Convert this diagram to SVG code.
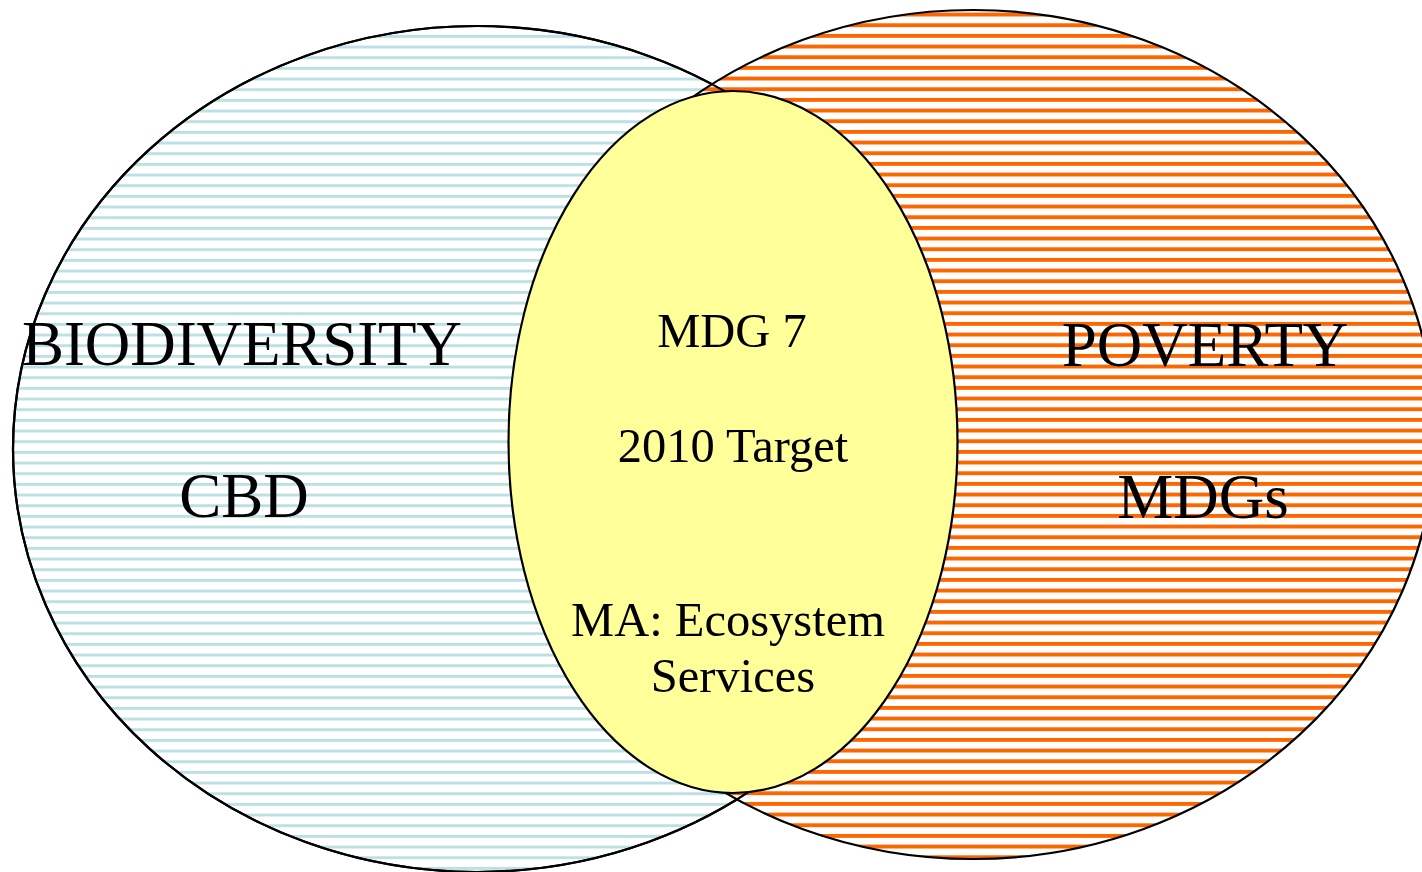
<svg xmlns="http://www.w3.org/2000/svg" width="1422" height="872" viewBox="0 0 1422 872">
<style>
.outline{stroke:#000;stroke-width:2.2}
.stripe{shape-rendering:crispEdges}
.big{font-family:"Liberation Serif","Times New Roman",serif;font-size:63px;fill:#000;text-anchor:middle}
.mid{font-family:"Liberation Serif","Times New Roman",serif;font-size:48.5px;fill:#000;text-anchor:middle}
</style>
<defs>
<pattern id="blueStripes" patternUnits="userSpaceOnUse" x="0" y="0" width="20" height="10.667">
<rect class="stripe" x="0" y="0" width="20" height="10.667" fill="#fff"/>
<rect class="stripe" x="0" y="2.6" width="20" height="2.8" fill="#BCE0E4"/>
</pattern>
<pattern id="orangeStripes" patternUnits="userSpaceOnUse" x="0" y="0" width="20" height="10.667">
<rect class="stripe" x="0" y="0" width="20" height="10.667" fill="#fff"/>
<rect class="stripe" x="0" y="2.3" width="20" height="3.4" fill="#FF6600"/>
</pattern>
</defs>
<rect width="1422" height="872" fill="#fff"/>
<g id="biodiversity">
<ellipse class="outline" cx="477" cy="449" rx="464" ry="423" fill="url(#blueStripes)"/>
</g>
<g id="poverty">
<ellipse class="outline" cx="973" cy="434.5" rx="462" ry="424.5" fill="url(#orangeStripes)"/>
<ellipse cx="477" cy="449" rx="464" ry="423" fill="none" stroke="#000" stroke-width="2.2"/>
</g>
<g id="overlap">
<ellipse class="outline" cx="733" cy="442" rx="224.5" ry="351" fill="#FFFF99"/>
</g>
<g id="labels-left">
<text class="big" x="242" y="365" textLength="440" lengthAdjust="spacing">BIODIVERSITY</text>
<text class="big" x="244" y="517">CBD</text>
</g>
<g id="labels-right">
<text class="big" x="1205" y="366">POVERTY</text>
<text class="big" x="1203" y="518">MDGs</text>
</g>
<g id="labels-center">
<text class="mid" x="732" y="347">MDG 7</text>
<text class="mid" x="733" y="462">2010 Target</text>
<text class="mid" x="728" y="636">MA: Ecosystem</text>
<text class="mid" x="733" y="692">Services</text>
</g>
<g id="connectors"></g>
</svg>
